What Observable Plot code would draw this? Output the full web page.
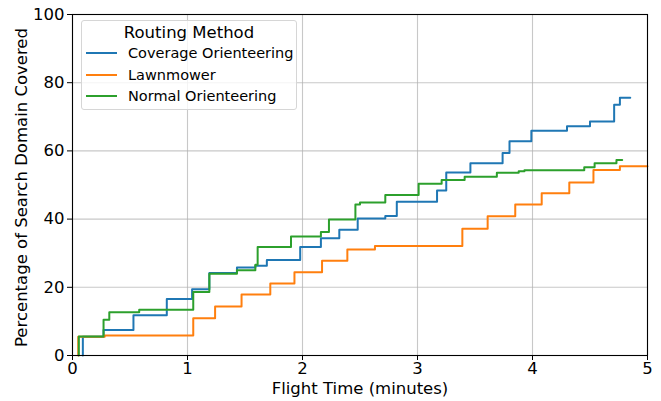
<!DOCTYPE html>
<html>
<head>
<meta charset="utf-8">
<script src="https://cdn.jsdelivr.net/npm/d3@7"></script>
<script src="https://cdn.jsdelivr.net/npm/@observablehq/plot@0.6"></script>
<style>
  body { margin: 0; background: #fff; }
  #wrap { position: relative; width: 661px; height: 401px; font-family: "DejaVu Sans", sans-serif; }
  #legend { position: absolute; left: 81px; top: 20px; width: 214px; height: 88px;
    border: 1px solid #d6d6d6; border-radius: 3px; background: rgba(255,255,255,0.8); color: #000; }
  #legend .title { position: absolute; left: 0; right: 0; top: 2px; text-align: center; font-size: 16.5px; }
  #legend .item { position: absolute; left: 4px; font-size: 14.5px; white-space: nowrap; }
  #legend .sw { display: inline-block; width: 31px; height: 0; border-top: 2px solid; vertical-align: middle; margin-right: 11px; position: relative; top: -1px; }
</style>
</head>
<body>
<div id="wrap"><div id="legend"></div></div>
<script>
const seriesNames = ["Coverage Orienteering", "Lawnmower", "Normal Orienteering"];
const seriesColors = ["#1f77b4", "#ff7f0e", "#2ca02c"];

const coverageTime  = [0.09, 0.09, 0.27, 0.53, 0.82, 1.04, 1.19, 1.43, 1.59, 1.69, 1.98, 2.16, 2.32, 2.48, 2.72, 2.82, 3.17, 3.25, 3.46, 3.74, 3.80, 3.99, 4.30, 4.50, 4.71, 4.76, 4.85];
const coverageValue = [0,    5.5,  7.5,  11.8, 16.6, 19.4, 24.2, 25.8, 26.3, 28.0, 31.8, 34.4, 36.9, 40.2, 40.9, 45.1, 48.4, 53.7, 56.4, 59.4, 62.8, 65.9, 67.2, 68.6, 73.5, 75.6, 75.6];

const lawnTime  = [0.05, 0.05, 0.28, 1.05, 1.24, 1.47, 1.72, 1.93, 2.17, 2.39, 2.63, 3.39, 3.61, 3.85, 4.08, 4.32, 4.53, 4.76, 5.0];
const lawnValue = [0,    5.5,  5.9,  10.9, 14.4, 17.9, 21.1, 24.4, 27.8, 31.1, 32.1, 37.2, 40.8, 44.3, 47.6, 50.7, 54.4, 55.5, 55.5];

const normalTime  = [0.055, 0.055, 0.27, 0.32, 0.58, 1.05, 1.19, 1.43, 1.59, 1.61, 1.90, 2.16, 2.23, 2.46, 2.50, 2.72, 3.01, 3.21, 3.41, 3.69, 3.88, 3.93, 4.45, 4.54, 4.73, 4.78];
const normalValue = [0,     5.6,   10.5, 12.7, 13.4, 18.6, 24.0, 25.0, 26.6, 31.8, 34.9, 36.2, 39.9, 44.3, 44.9, 47.1, 50.4, 51.5, 52.4, 53.6, 54.0, 54.3, 55.2, 56.4, 57.3, 57.3];

const xTicks = [0, 1, 2, 3, 4, 5];
const yTicks = [0, 20, 40, 60, 80, 100];
const xLabel = "Flight Time (minutes)";
const yLabel = "Percentage of Search Domain Covered";

const allTimes = [coverageTime, lawnTime, normalTime];
const allValues = [coverageValue, lawnValue, normalValue];
const data = [];
seriesNames.forEach((name, i) => {
  allTimes[i].forEach((t, j) => data.push({series: name, t, v: allValues[i][j]}));
});

const chart = Plot.plot({
  width: 661,
  height: 401,
  marginLeft: 72,
  marginRight: 14,
  marginTop: 14,
  marginBottom: 46,
  style: {fontFamily: "DejaVu Sans, sans-serif", fontSize: "16.5px", color: "#000", background: "transparent"},
  x: {domain: [0, 5]},
  y: {domain: [0, 100]},
  color: {domain: seriesNames, range: seriesColors},
  marks: [
    Plot.gridX(xTicks, {stroke: "#b0b0b0", strokeOpacity: 0.7, strokeWidth: 1.1}),
    Plot.gridY(yTicks, {stroke: "#b0b0b0", strokeOpacity: 0.7, strokeWidth: 1.1}),
    Plot.line(data, {x: "t", y: "v", z: "series", stroke: "series", curve: "step-after", strokeWidth: 2}),
    Plot.frame({stroke: "#000", strokeWidth: 1.1, strokeOpacity: 1}),
    Plot.axisX(xTicks, {tickSize: 5, tickPadding: 2, fontSize: 16.5, tickFormat: d => String(d), label: xLabel, labelAnchor: "center", labelArrow: "none", labelOffset: 38}),
    Plot.axisY(yTicks, {tickSize: 5, tickPadding: 3, fontSize: 16.5, tickFormat: d => String(d), label: null}),
    Plot.text([yLabel], {frameAnchor: "left", rotate: -90, dx: -51, dy: 2.5, textAnchor: "middle", lineAnchor: "middle", fontSize: 16.5, fill: "#000"})
  ]
});
document.getElementById("wrap").prepend(chart);

const legend = document.getElementById("legend");
const t = document.createElement("div");
t.className = "title";
t.textContent = "Routing Method";
legend.appendChild(t);
seriesNames.forEach((name, i) => {
  const it = document.createElement("div");
  it.className = "item";
  it.style.top = (24 + i * 21.5) + "px";
  const sw = document.createElement("span");
  sw.className = "sw";
  sw.style.borderTopColor = seriesColors[i];
  it.appendChild(sw);
  it.appendChild(document.createTextNode(name));
  legend.appendChild(it);
});
</script>
</body>
</html>
